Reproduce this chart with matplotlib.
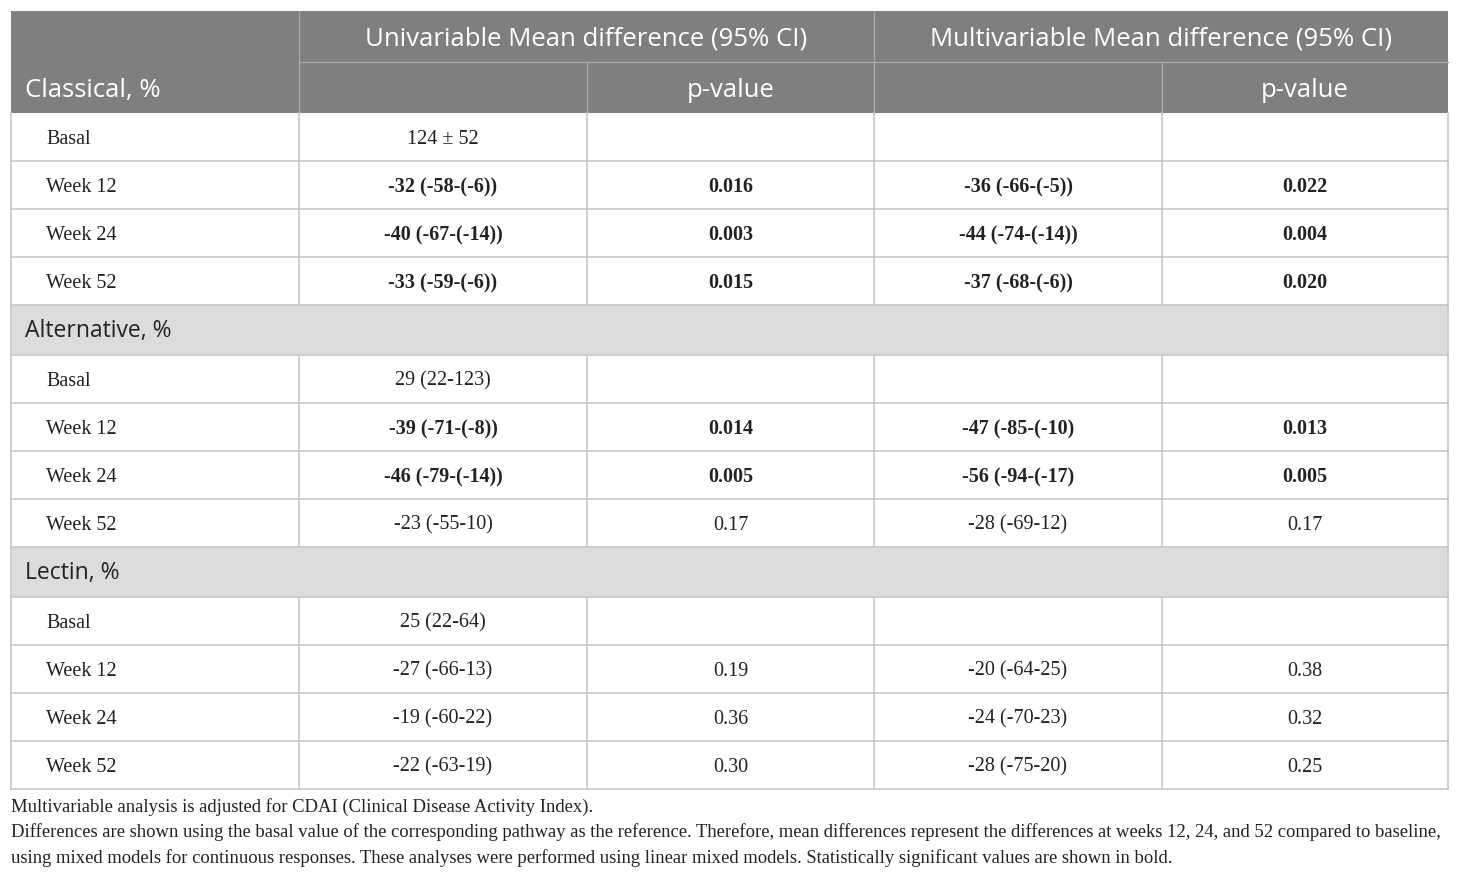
import matplotlib.pyplot as plt
from matplotlib.patches import Rectangle

# table content
sections = ["Classical, %", "Alternative, %", "Lectin, %"]
timepoints = ["Basal", "Week 12", "Week 24", "Week 52"]
basal_values = ["124 ± 52", "29 (22-123)", "25 (22-64)"]
uni_diff = [
    ["-32 (-58-(-6))", "-40 (-67-(-14))", "-33 (-59-(-6))"],
    ["-39 (-71-(-8))", "-46 (-79-(-14))", "-23 (-55-10)"],
    ["-27 (-66-13)", "-19 (-60-22)", "-22 (-63-19)"],
]
uni_p = [
    ["0.016", "0.003", "0.015"],
    ["0.014", "0.005", "0.17"],
    ["0.19", "0.36", "0.30"],
]
multi_diff = [
    ["-36 (-66-(-5))", "-44 (-74-(-14))", "-37 (-68-(-6))"],
    ["-47 (-85-(-10)", "-56 (-94-(-17)", "-28 (-69-12)"],
    ["-20 (-64-25)", "-24 (-70-23)", "-28 (-75-20)"],
]
multi_p = [
    ["0.022", "0.004", "0.020"],
    ["0.013", "0.005", "0.17"],
    ["0.38", "0.32", "0.25"],
]
header_top = ["Univariable Mean difference (95% CI)", "Multivariable Mean difference (95% CI)"]
header_sub = ["", "p-value", "", "p-value"]
footnotes = [
    "Multivariable analysis is adjusted for CDAI (Clinical Disease Activity Index).",
    "Differences are shown using the basal value of the corresponding pathway as the reference. Therefore, mean differences represent the differences at weeks 12, 24, and 52 compared to baseline,",
    "using mixed models for continuous responses. These analyses were performed using linear mixed models. Statistically significant values are shown in bold.",
]

SANS = "Open Sans"
SERIF = "Liberation Serif"
HEAD_BG = "#7f7f7f"
SEC_BG = "#dcdcdc"
GRID = "#c8c8c8"
HEAD_FS = 18.5
SEC_FS = 16.5
BODY_FS = 14.5

col_x = [11, 299, 587, 874, 1162, 1448]
col_centers = [(col_x[i] + col_x[i + 1]) / 2 for i in range(5)]

fig = plt.figure(figsize=(14.6, 8.77), dpi=100)
ax = fig.add_axes([0, 0, 1, 1])
ax.set_xlim(0, 1460)
ax.set_ylim(877, 0)
ax.axis("off")

# header block
h_top, h_mid, h_bot = 11, 62, 113
ax.add_patch(Rectangle((col_x[0], h_top), col_x[-1] - col_x[0], h_bot - h_top,
                       facecolor=HEAD_BG, edgecolor="none"))
hl = dict(color="#a6a6a6", lw=1)
ax.plot([col_x[1], col_x[-1]], [h_mid, h_mid], **hl)
ax.plot([col_x[1], col_x[1]], [h_top, h_bot], **hl)
ax.plot([col_x[3], col_x[3]], [h_top, h_bot], **hl)
ax.plot([col_x[2], col_x[2]], [h_mid, h_bot], **hl)
ax.plot([col_x[4], col_x[4]], [h_mid, h_bot], **hl)

ax.text(25, (h_mid + h_bot) / 2 + 3, sections[0], family=SANS, fontsize=HEAD_FS,
        color="white", ha="left", va="center")
ax.text((col_x[1] + col_x[3]) / 2, (h_top + h_mid) / 2 + 2, header_top[0], family=SANS,
        fontsize=HEAD_FS, color="white", ha="center", va="center")
ax.text((col_x[3] + col_x[5]) / 2, (h_top + h_mid) / 2 + 2, header_top[1], family=SANS,
        fontsize=HEAD_FS, color="white", ha="center", va="center")
for i, lab in enumerate(header_sub):
    if lab:
        ax.text(col_centers[i + 1], (h_mid + h_bot) / 2 + 3, lab, family=SANS,
                fontsize=HEAD_FS, color="white", ha="center", va="center")

# body rows
row_h = 48
sec_h = 50
y = h_bot
for s in range(len(sections)):
    if s > 0:
        ax.add_patch(Rectangle((col_x[0], y), col_x[-1] - col_x[0], sec_h,
                               facecolor=SEC_BG, edgecolor="none"))
        ax.text(25, y + sec_h / 2 + 1, sections[s], family=SANS, fontsize=SEC_FS,
                color="#222222", ha="left", va="center")
        ax.plot([col_x[0], col_x[-1]], [y + sec_h, y + sec_h], color=GRID, lw=1.2)
        ax.plot([col_x[0], col_x[0]], [y, y + sec_h], color=GRID, lw=1.2)
        ax.plot([col_x[-1], col_x[-1]], [y, y + sec_h], color=GRID, lw=1.2)
        y += sec_h
    for t, tp in enumerate(timepoints):
        cy = y + row_h / 2 + 2
        ax.text(46, cy, tp, family=SERIF, fontsize=BODY_FS, color="#222222",
                ha="left", va="center")
        if t == 0:
            cells = [basal_values[s], "", "", ""]
            bold = False
        else:
            k = t - 1
            cells = [uni_diff[s][k], uni_p[s][k], multi_diff[s][k], multi_p[s][k]]
            bold = float(uni_p[s][k]) < 0.05
        for c, txt in enumerate(cells):
            if txt:
                ax.text(col_centers[c + 1], cy, txt, family=SERIF, fontsize=BODY_FS,
                        color="#222222", ha="center", va="center",
                        fontweight="bold" if bold else "normal")
        for cx in col_x:
            ax.plot([cx, cx], [y, y + row_h], color=GRID, lw=1.2)
        ax.plot([col_x[0], col_x[-1]], [y + row_h, y + row_h], color=GRID, lw=1.2)
        y += row_h

# footnotes
foot_y = [807, 832, 858]
for fy, txt in zip(foot_y, footnotes):
    ax.text(11, fy, txt, family=SERIF, fontsize=13.4, color="#222222",
            ha="left", va="center")

fig.savefig("out.png", dpi=100, facecolor="white")
